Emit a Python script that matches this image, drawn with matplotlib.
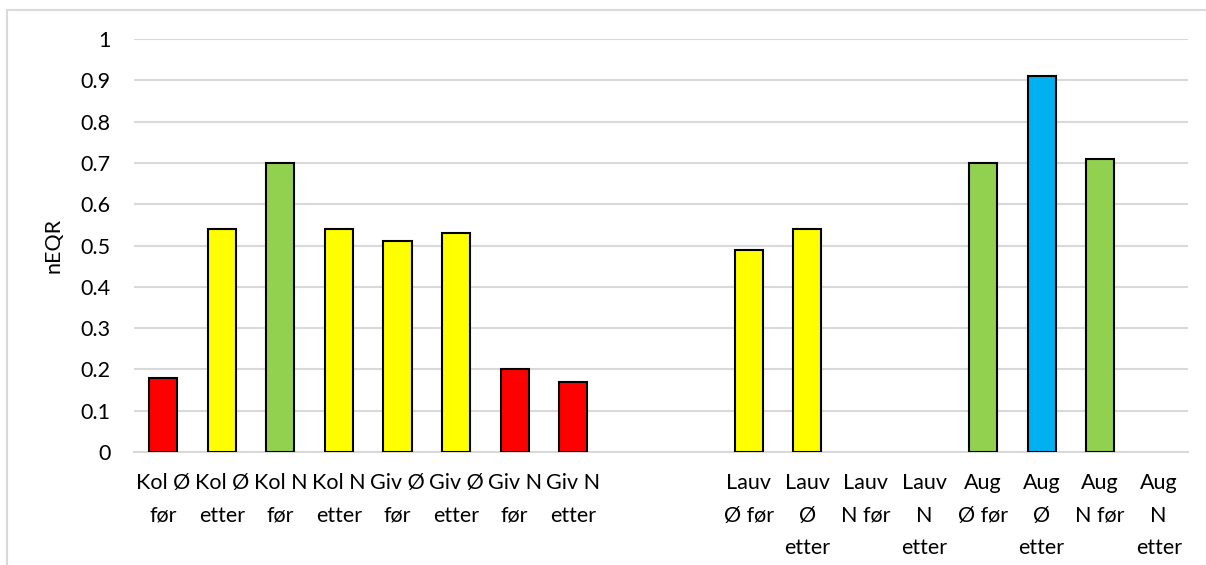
import numpy as np
import matplotlib.pyplot as plt
from matplotlib.lines import Line2D

labels = ['Kol Ø\nfør', 'Kol Ø\netter', 'Kol N\nfør', 'Kol N\netter',
          'Giv Ø\nfør', 'Giv Ø\netter', 'Giv N\nfør', 'Giv N\netter',
          '', '',
          'Lauv\nØ før', 'Lauv\nØ\netter', 'Lauv\nN før', 'Lauv\nN\netter',
          'Aug\nØ før', 'Aug\nØ\netter', 'Aug\nN før', 'Aug\nN\netter']
values = [0.18, 0.54, 0.70, 0.54, 0.51, 0.53, 0.20, 0.17,
          np.nan, np.nan,
          0.49, 0.54, np.nan, np.nan, 0.70, 0.91, 0.71, np.nan]
RED, YEL, GRN, BLU = '#FF0000', '#FFFF00', '#92D050', '#00B0F0'
colors = [RED, YEL, GRN, YEL, YEL, YEL, RED, RED,
          'none', 'none',
          YEL, YEL, 'none', 'none', GRN, BLU, GRN, 'none']

plt.rcParams['font.family'] = ['Lato', 'DejaVu Sans']

fig = plt.figure(figsize=(12.06, 5.65), dpi=100)
ax = fig.add_axes([134/1206, 1-452/565, (1188-134)/1206, (452-39)/565])

x = np.arange(len(labels))
ax.bar(x, values, width=0.48, color=colors, edgecolor='black', linewidth=1.5, zorder=3)

ax.set_xlim(-0.5, len(labels)-0.5)
ax.set_ylim(0, 1)
ax.set_yticks(np.arange(0, 1.01, 0.1))
ax.set_yticklabels(['0', '0.1', '0.2', '0.3', '0.4', '0.5', '0.6', '0.7', '0.8', '0.9', '1'])
ax.set_xticks(x)
ax.set_xticklabels(labels, linespacing=1.8)
ax.tick_params(axis='both', length=0, labelsize=15.5, colors='black')
ax.tick_params(axis='y', pad=17)
ax.tick_params(axis='x', pad=15)
ax.grid(axis='y', color='#d9d9d9', linewidth=1.5, zorder=0)
for s in ['top', 'right', 'left']:
    ax.spines[s].set_visible(False)
ax.spines['bottom'].set_color('#d9d9d9')
ax.spines['bottom'].set_linewidth(1.5)
ax.set_ylabel('nEQR', fontsize=15.5, labelpad=12)

# chart border
fig.add_artist(Line2D([7/1206, 1], [1-10/565, 1-10/565], color='#d9d9d9', linewidth=1.5))
fig.add_artist(Line2D([7/1206, 7/1206], [0, 1-10/565], color='#d9d9d9', linewidth=1.5))

fig.savefig('out.png', dpi=100)
